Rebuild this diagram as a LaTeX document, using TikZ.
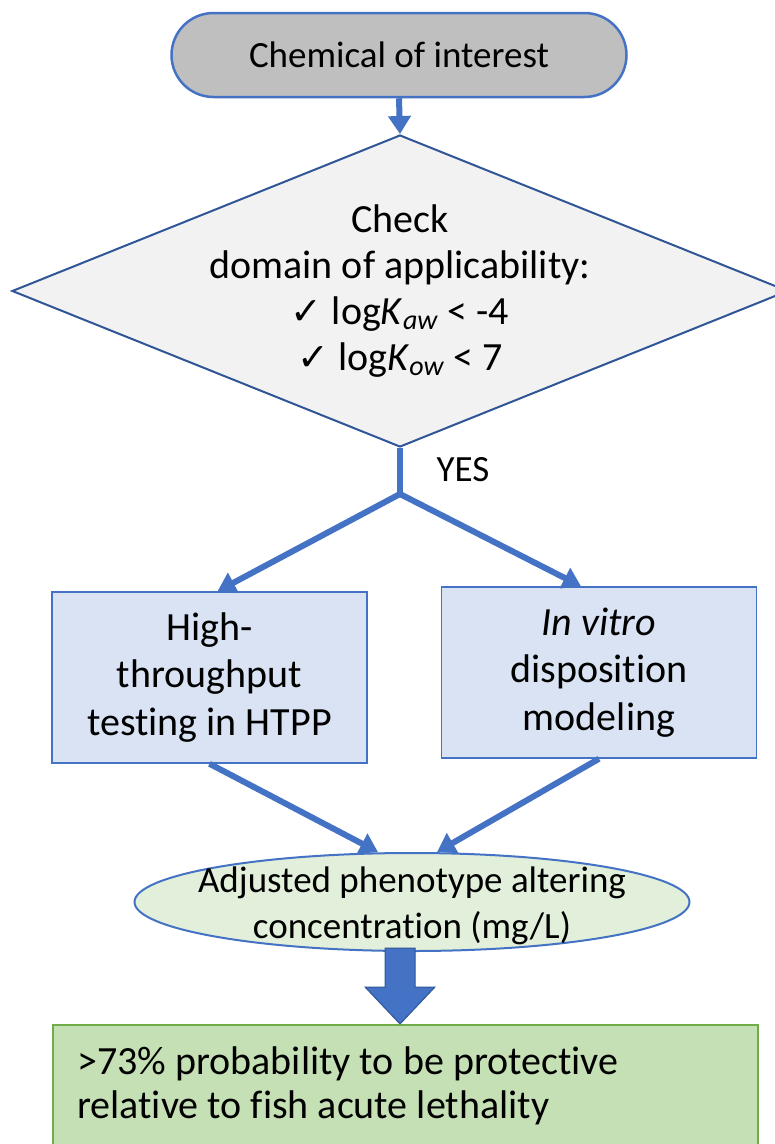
\documentclass[tikz,border=0pt]{standalone}
\usepackage{fontspec}
\setmainfont{Carlito}[Ligatures=NoCommon]
\newfontfamily\djv{DejaVu Sans}
\usetikzlibrary{shapes.geometric,arrows.meta,calc}
\definecolor{cblue}{HTML}{4472C4}
\definecolor{dblue}{HTML}{2F5597}
\definecolor{termfill}{HTML}{BFBFBF}
\definecolor{diafill}{HTML}{F2F2F2}
\definecolor{boxfill}{HTML}{DAE3F3}
\definecolor{ellfill}{HTML}{E2EFDA}
\definecolor{resfill}{HTML}{C5E0B4}
\definecolor{resdraw}{HTML}{70AD47}
\newcommand{\chkmark}{{\djv\fontsize{38pt}{46pt}\selectfont ✓}}
\tikzset{
  txt/.style={font=\fontsize{37pt}{46pt}\selectfont, align=center, text=black},
  bigtxt/.style={font=\fontsize{40pt}{47.5pt}\selectfont, align=center, text=black},
  term/.style={txt, draw=cblue, line width=2.5pt, fill=termfill, rounded corners=42pt,
    minimum width=455pt, minimum height=84pt, inner sep=0pt},
  diabox/.style={shape=diamond, draw=dblue, line width=2pt, fill=diafill,
    minimum width=776pt, minimum height=312pt, inner sep=0pt},
  procbox/.style={bigtxt, draw=cblue, line width=1.5pt, fill=boxfill,
    minimum width=315pt, minimum height=171pt, inner sep=0pt},
  ellbox/.style={shape=ellipse, draw=cblue, line width=2pt, fill=ellfill,
    minimum width=555pt, minimum height=98pt, inner sep=0pt},
  resbox/.style={draw=resdraw, line width=2pt, fill=resfill,
    minimum width=705pt, minimum height=124pt, inner sep=0pt},
  restxt/.style={align=left, font=\fontsize{40pt}{44pt}\selectfont, inner sep=0pt, text=black},
  conn/.style={draw=cblue, line width=6pt},
  arr/.style={conn, -{Triangle[length=18pt,width=22pt]}},
}
\begin{document}
\begin{tikzpicture}[x=1pt,y=-1pt]
\useasboundingbox (0,0) rectangle (775,1144);

\node[term] (start) at (399,55) {Chemical of interest};

\node[diabox] (chk) at (400,291) {};
\node[txt, font=\fontsize{40pt}{46pt}\selectfont] (chktxt) at (chk.center) {Check\\domain of applicability:\\\chkmark\ log\textit{K}\textsubscript{\textit{aw}} < -4\\\chkmark\ log\textit{K}\textsubscript{\textit{ow}} < 7};

\node[txt] (yes) at (463,470) {YES};
\coordinate (split) at (400,494);

\node[procbox] (hts) at (209.5,677.5) {High-\\throughput\\testing in HTPP};
\node[procbox] (ivd) at (599,672.5) {\textit{In vitro}\\disposition\\modeling};

\node[ellbox] (apc) at (412,902) {};
\node[txt] (apctxt) at ($(apc.center)+(0,4)$) {Adjusted phenotype altering\\concentration (mg/L)};

\node[resbox, anchor=north west] (res) at (52,1024) {};
\node[restxt, anchor=west] (restext) at (77,1086) {>73\% probability to be protective\\relative to fish acute lethality};

\draw[arr] (start.south) -- (chk.north);
\draw[conn] (chk.south) -- (split);
\draw[arr] (split) -- ($(hts.north)+(8,0)$);
\draw[arr] (split) -- ($(ivd.north)+(-18,0)$);
\draw[arr] (hts.south) -- ($(apc.north)+(-34,0)$);
\draw[arr] (ivd.south) -- ($(apc.north)+(25,0)$);

\coordinate (ba) at (400,948);
\coordinate (bt) at (res.north -| 400,0);
\draw[draw=dblue, line width=1pt, fill=cblue]
  (385,0 |- ba) -- (415,0 |- ba) -- (415,987) -- (435,987) -- (bt)
  -- (365,987) -- (385,987) -- cycle;
\end{tikzpicture}
\end{document}
